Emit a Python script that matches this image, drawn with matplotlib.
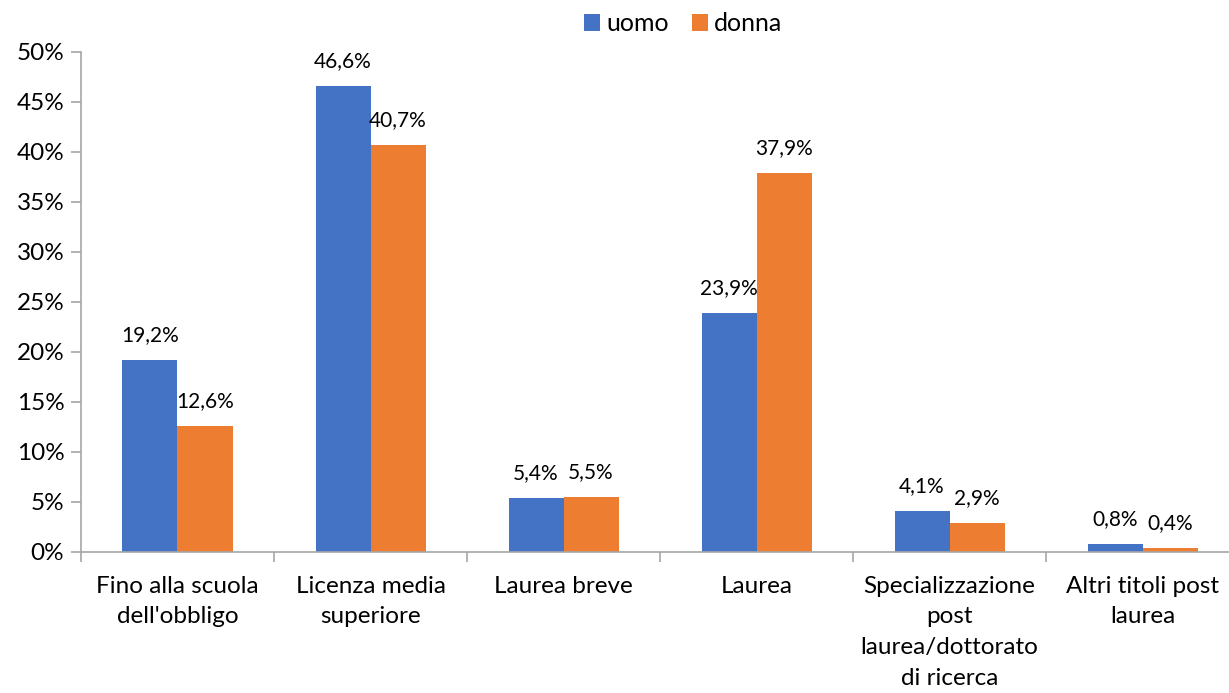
import numpy as np
import matplotlib
matplotlib.use("Agg")
import matplotlib.pyplot as plt
from matplotlib.ticker import PercentFormatter

plt.rcParams['font.family'] = ['Lato', 'DejaVu Sans']

categories = ["Fino alla scuola\ndell'obbligo", "Licenza media\nsuperiore", "Laurea breve",
              "Laurea", "Specializzazione\npost\nlaurea/dottorato\ndi ricerca",
              "Altri titoli post\nlaurea"]
uomo = [19.2, 46.6, 5.4, 23.9, 4.1, 0.8]
donna = [12.6, 40.7, 5.5, 37.9, 2.9, 0.4]

blue = '#4472c4'
orange = '#ed7d31'
grey = '#a6a6a6'

fig = plt.figure(figsize=(12.29, 6.93), dpi=100)
# axes runs a bit past the right edge, as in the original
ax = fig.add_axes([0.0659, 0.2035, 0.9423, 0.7215])

x = np.arange(len(categories))
w = 0.285
b1 = ax.bar(x - w / 2, uomo, w, color=blue, label='uomo')
b2 = ax.bar(x + w / 2, donna, w, color=orange, label='donna')

for bars, vals in ((b1, uomo), (b2, donna)):
    for rect, v in zip(bars, vals):
        ax.annotate(f"{v:.1f}%".replace('.', ','),
                    (rect.get_x() + rect.get_width() / 2, v),
                    xytext=(0, 10.5), textcoords='offset points',
                    ha='center', va='bottom', fontsize=15)

ax.set_xlim(-0.5, len(categories) - 0.5)
ax.set_ylim(0, 50)
ax.set_yticks(np.arange(0, 51, 5))
ax.yaxis.set_major_formatter(PercentFormatter(decimals=0))
ax.set_xticks(x)
ax.set_xticklabels(categories, fontsize=17.5, linespacing=1.57, va='top')
ax.set_xticks(np.arange(-0.5, len(categories)), minor=True)
ax.tick_params(axis='x', which='major', length=0, pad=17)
ax.tick_params(axis='x', which='minor', length=7, color=grey, width=1.2)
ax.tick_params(axis='y', length=7, color=grey, width=1.2, labelsize=17.5, pad=5)

for s in ('top', 'right'):
    ax.spines[s].set_visible(False)
for s in ('left', 'bottom'):
    ax.spines[s].set_color(grey)
    ax.spines[s].set_linewidth(1.2)

fig.legend(loc='upper center', bbox_to_anchor=(0.556, 1.015), ncol=2, frameon=False,
           fontsize=18, handlelength=0.65, handleheight=0.65, handletextpad=0.25,
           columnspacing=0.9)

fig.savefig('out.png', dpi=100)
